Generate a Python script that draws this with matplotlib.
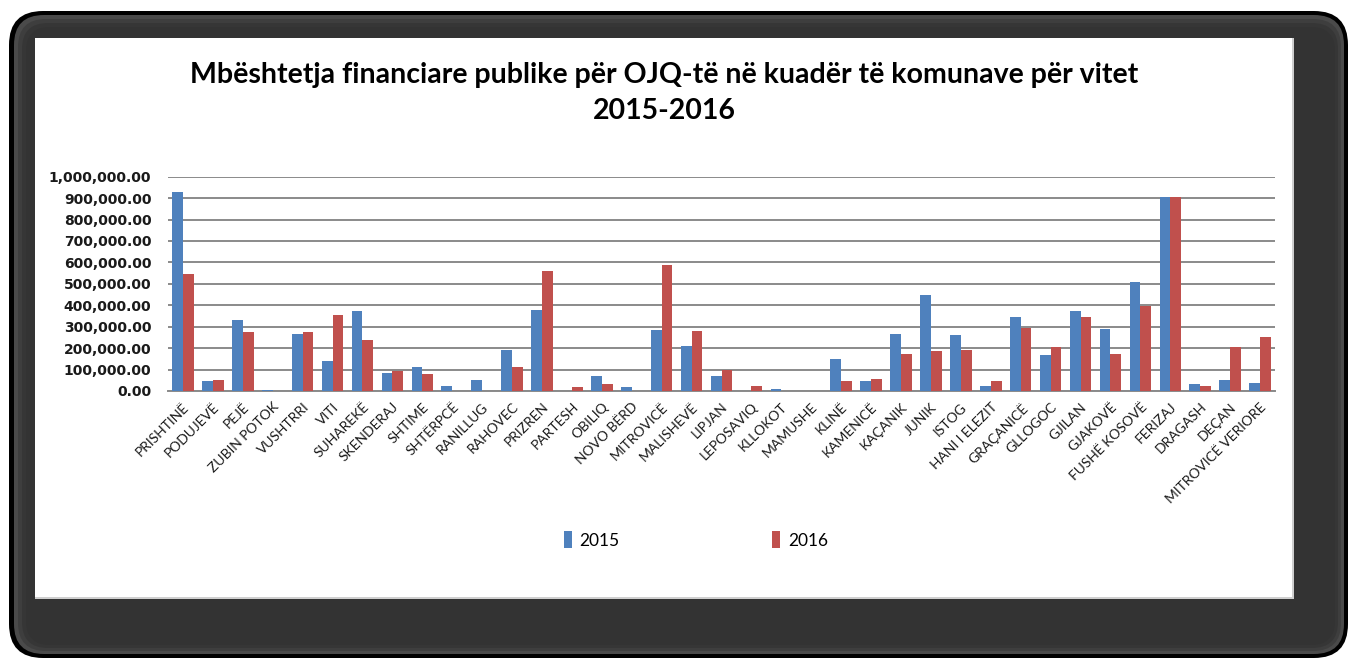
import matplotlib
matplotlib.use("Agg")
import matplotlib.pyplot as plt
import matplotlib.patches as mpatches
from matplotlib.transforms import IdentityTransform
from matplotlib.ticker import FuncFormatter
import numpy as np

# municipalities (x axis) and yearly support
municipalities = [
    "PRISHTINË", "PODUJEVË", "PEJË", "ZUBIN POTOK", "VUSHTRRI", "VITI",
    "SUHAREKË", "SKENDERAJ", "SHTIME", "SHTËRPCË", "RANILLUG", "RAHOVEC",
    "PRIZREN", "PARTESH", "OBILIQ", "NOVO BËRD", "MITROVICË", "MALISHEVË",
    "LIPJAN", "LEPOSAVIQ", "KLLOKOT", "MAMUSHE", "KLINË", "KAMENICË",
    "KAÇANIK", "JUNIK", "ISTOG", "HANI I ELEZIT", "GRAÇANICË", "GLLOGOC",
    "GJILAN", "GJAKOVË", "FUSHË KOSOVË", "FERIZAJ", "DRAGASH", "DEÇAN",
    "MITROVICË VERIORE",
]
values_2015 = [
    928000, 45000, 333000, 6000, 266000, 139000,
    374000, 86000, 111000, 22000, 50000, 193000,
    380000, 2000, 70000, 17000, 285000, 212000,
    70000, 2000, 9000, 0, 151000, 45000,
    266000, 449000, 260000, 23000, 347000, 167000,
    374000, 287000, 508000, 907000, 31000, 50000,
    37000,
]
values_2016 = [
    545000, 51000, 274000, 0, 273000, 355000,
    238000, 92000, 78000, 2000, 0, 111000,
    562000, 17000, 31000, 2000, 589000, 279000,
    98000, 23000, 2000, 2000, 45000, 58000,
    171000, 185000, 193000, 45000, 293000, 206000,
    347000, 171000, 396000, 907000, 23000, 206000,
    252000,
]
series_labels = ["2015", "2016"]
title = "Mbështetja financiare publike për OJQ-të në kuadër të komunave për vitet\n2015-2016"

W, H = 1351, 659
fig = plt.figure(figsize=(W / 100, H / 100), dpi=100)
fig.patch.set_facecolor("white")

def box(x0, y0, x1, y1, color, rnd=0, z=-10):
    # pixel coords, y measured from top
    if rnd:
        p = mpatches.FancyBboxPatch((x0 + rnd, H - y1 + rnd), (x1 - x0) - 2 * rnd, (y1 - y0) - 2 * rnd,
                                    boxstyle="round,pad=%d" % rnd, transform=IdentityTransform(),
                                    facecolor=color, edgecolor="none", zorder=z)
    else:
        p = mpatches.Rectangle((x0, H - y1), x1 - x0, y1 - y0, transform=IdentityTransform(),
                               facecolor=color, edgecolor="none", zorder=z)
    fig.patches.append(p)

# dark shadow frame (a few soft bands) + white panel
box(9, 11, 1348, 658, "#000000", rnd=34, z=-20)
box(14, 15, 1344, 654, "#4a4a4a", rnd=30, z=-19)
box(18, 19, 1341, 651, "#3e3e3e", rnd=28, z=-18)
box(22, 23, 1338, 648, "#363636", rnd=26, z=-17)
box(26, 27, 1335, 645, "#333333", rnd=24, z=-16)
box(35, 38, 1294, 599, "#cfcfcf", z=-11)
box(35, 38, 1292, 597, "white", z=-10)

ax = fig.add_axes([168 / W, 1 - 391 / H, (1275 - 168) / W, (391 - 176.7) / H])
ax.set_facecolor("none")

x = np.arange(len(municipalities))
bw = 0.36
ax.bar(x - bw / 2, values_2015, bw, color="#4F81BD", label=series_labels[0], zorder=3)
ax.bar(x + bw / 2, values_2016, bw, color="#C0504D", label=series_labels[1], zorder=3)

ax.set_xlim(-0.5, len(municipalities) - 0.5)
ax.set_ylim(0, 1000000)
ax.set_yticks(np.arange(0, 1000001, 100000))
ax.yaxis.set_major_formatter(FuncFormatter(lambda v, p: "{:,.2f}".format(v)))
ax.yaxis.grid(True, color="#8a8a8a", linewidth=1.4, zorder=0)
ax.set_axisbelow(True)
for s in ["top", "right", "left"]:
    ax.spines[s].set_visible(False)
ax.spines["bottom"].set_color("#8a8a8a")
ax.spines["bottom"].set_linewidth(1.4)
ax.tick_params(axis="y", length=0, pad=12, labelsize=10, labelcolor="#1a1a1a")
for lab in ax.get_yticklabels():
    lab.set_fontweight("bold")
    lab.set_family("DejaVu Sans")

ax.set_xticks(x)
ax.set_xticklabels(municipalities, rotation=45, ha="right", rotation_mode="anchor",
                   fontsize=10, family="Lato", color="#1a1a1a")
ax.tick_params(axis="x", length=0, pad=7)

fig.text(664 / W, 1 - 93 / H, title, ha="center", va="center", fontsize=20.5,
         fontweight="bold", family="Lato", linespacing=1.5, color="black")

fig.legend(loc="center", bbox_to_anchor=(696 / W, 1 - 540 / H), ncol=2, frameon=False,
           handlelength=0.45, handleheight=1.1, handletextpad=0.45, columnspacing=8.8,
           prop={"family": "Lato", "size": 12.5})

fig.savefig("out.png", dpi=100, facecolor="white")
